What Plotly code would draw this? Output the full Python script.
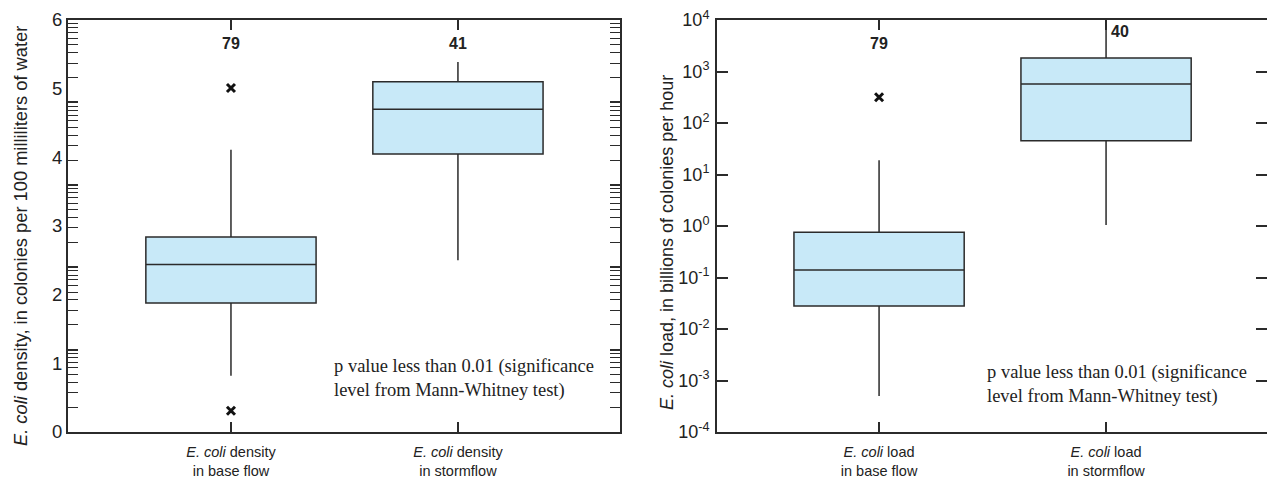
import plotly.graph_objects as go

# ---- data -------------------------------------------------------------
categories_density = ["<i>E. coli</i> density<br>in base flow",
                      "<i>E. coli</i> density<br>in stormflow"]
categories_load = ["<i>E. coli</i> load<br>in base flow",
                   "<i>E. coli</i> load<br>in stormflow"]

# log10 density, colonies per 100 mL  [base flow, stormflow]
density_lowerfence = [0.82, 2.50]
density_q1 = [1.88, 4.05]
density_median = [2.44, 4.70]
density_q3 = [2.84, 5.10]
density_upperfence = [4.11, 5.39]
density_outliers_base = [5.01, 0.31]
density_counts = [79, 41]

# load, billions of colonies per hour  [base flow, stormflow]
load_lowerfence = [0.0005, 1.05]
load_q1 = [0.028, 45]
load_median = [0.14, 570]
load_q3 = [0.76, 1820]
load_upperfence = [19, 10000]
load_outliers_base = [316]
load_counts = [79, 40]

density_ticks = [0, 1, 2, 3, 4, 5, 6]
load_tick_exponents = [-4, -3, -2, -1, 0, 1, 2, 3, 4]

# ---- styling ----------------------------------------------------------
W, H = 1267, 481
NARROW = "Liberation Sans Narrow, Arial Narrow, sans-serif"
SERIF = "Liberation Serif, Times New Roman, serif"
INK = "#2b2b2b"
FILL = "#c8e9f8"
BOX_W = 0.75


def px_x(p):
    return p / W


def px_y(p):
    return 1 - p / H


fig = go.Figure()

# boxes
for i in range(2):
    fig.add_trace(go.Box(
        x=[i], q1=[density_q1[i]], median=[density_median[i]], q3=[density_q3[i]],
        lowerfence=[density_lowerfence[i]], upperfence=[density_upperfence[i]],
        width=BOX_W, whiskerwidth=0, boxpoints=False, fillcolor=FILL,
        line=dict(color=INK, width=1.5), xaxis="x", yaxis="y",
        showlegend=False, hoverinfo="skip"))
    fig.add_trace(go.Box(
        x=[i], q1=[load_q1[i]], median=[load_median[i]], q3=[load_q3[i]],
        lowerfence=[load_lowerfence[i]], upperfence=[load_upperfence[i]],
        width=BOX_W, whiskerwidth=0, boxpoints=False, fillcolor=FILL,
        line=dict(color=INK, width=1.5), xaxis="x2", yaxis="y2",
        showlegend=False, hoverinfo="skip"))

# outliers
outlier_marker = dict(symbol="x-thin", size=8, color="#111",
                      line=dict(color="#111", width=3))
fig.add_trace(go.Scatter(x=[0] * len(density_outliers_base), y=density_outliers_base,
                         mode="markers", marker=outlier_marker, xaxis="x", yaxis="y",
                         showlegend=False, hoverinfo="skip"))
fig.add_trace(go.Scatter(x=[0] * len(load_outliers_base), y=load_outliers_base,
                         mode="markers", marker=outlier_marker, xaxis="x2", yaxis="y2",
                         showlegend=False, hoverinfo="skip"))

# empty trace to hold the log-cycle tick axis on the density panel
fig.add_trace(go.Scatter(x=[None], y=[None], xaxis="x", yaxis="y3",
                         showlegend=False, hoverinfo="skip"))

y_dom = [49 / H, 461 / H]
axis_common = dict(showline=True, linecolor=INK, linewidth=2, tickcolor=INK,
                   showgrid=False, zeroline=False, fixedrange=True, automargin=False)

decades = [10 ** n for n in range(0, 6)]
cycle_minor = [k * 10 ** n for n in range(0, 5) for k in range(2, 10)]

fig.update_layout(
    width=W, height=H, autosize=False,
    margin=dict(l=0, r=0, t=0, b=0, pad=0, autoexpand=False),
    paper_bgcolor="white", plot_bgcolor="white",
    font=dict(family=NARROW, size=18, color="#222"),
    xaxis=dict(domain=[68 / W, 620 / W], range=[-0.718, 1.714], anchor="y",
               tickmode="array", tickvals=[0, 1], ticktext=categories_density,
               ticks="inside", ticklen=10, tickwidth=1.5, mirror="ticks",
               tickfont=dict(size=14.5), ticklabelstandoff=6, **axis_common),
    yaxis=dict(domain=y_dom, range=[0, 6], anchor="x",
               tickmode="array", tickvals=density_ticks,
               ticktext=[str(v) for v in density_ticks],
               ticks="", mirror=True, tickfont=dict(size=18.5), **axis_common),
    yaxis3=dict(overlaying="y", anchor="x", side="left", type="log", range=[0, 5],
                tickmode="array", tickvals=decades, ticks="inside", ticklen=10,
                tickwidth=2, showticklabels=False, mirror="ticks",
                minor=dict(tickmode="array", tickvals=cycle_minor, ticks="inside",
                           ticklen=10, tickwidth=1, tickcolor=INK),
                **axis_common),
    xaxis2=dict(domain=[717 / W, 1.0], range=[-0.714, 1.709], anchor="y2",
                tickmode="array", tickvals=[0, 1], ticktext=categories_load,
                ticks="inside", ticklen=10, tickwidth=1.5, mirror="ticks",
                tickfont=dict(size=14.5), ticklabelstandoff=6, **axis_common),
    yaxis2=dict(domain=y_dom, type="log", range=[-4, 4], anchor="x2",
                tickmode="array", tickvals=[10.0 ** e for e in load_tick_exponents],
                ticktext=["10<sup>%d</sup>" % e for e in load_tick_exponents],
                ticks="inside", ticklen=11, tickwidth=1.5, mirror="ticks",
                tickfont=dict(size=18), ticklabelstandoff=2, **axis_common),
)

annotations = []
# sample counts
for i, n in enumerate(density_counts):
    annotations.append(dict(x=i, y=5.66, xref="x", yref="y", text="<b>%d</b>" % n,
                            showarrow=False, font=dict(size=16, family=NARROW, color="#222")))
annotations.append(dict(x=0, y=3.55, xref="x2", yref="y2", text="<b>%d</b>" % load_counts[0],
                        showarrow=False, font=dict(size=16, family=NARROW, color="#222")))
annotations.append(dict(x=1.062, y=3.786, xref="x2", yref="y2", text="<b>%d</b>" % load_counts[1],
                        showarrow=False, font=dict(size=16, family=NARROW, color="#222")))

# significance notes
note = "p value less than 0.01 (significance<br>level from Mann-Whitney test)"
annotations.append(dict(x=px_x(332), y=px_y(378), xref="paper", yref="paper", text=note,
                        xanchor="left", yanchor="middle", align="left", showarrow=False,
                        font=dict(size=18.5, family=SERIF, color="#222")))
annotations.append(dict(x=px_x(985), y=px_y(384), xref="paper", yref="paper", text=note,
                        xanchor="left", yanchor="middle", align="left", showarrow=False,
                        font=dict(size=18.5, family=SERIF, color="#222")))

# axis titles
annotations.append(dict(x=px_x(20), y=px_y(236), xref="paper", yref="paper",
                        text="<i>E. coli</i> density, in colonies per 100 milliliters of water",
                        textangle=-90, showarrow=False, xanchor="center", yanchor="middle",
                        font=dict(size=18.3, family=NARROW, color="#222")))
annotations.append(dict(x=px_x(667), y=px_y(243), xref="paper", yref="paper",
                        text="<i>E. coli</i> load, in billions of colonies per hour",
                        textangle=-90, showarrow=False, xanchor="center", yanchor="middle",
                        font=dict(size=18, family=NARROW, color="#222")))

fig.update_layout(annotations=annotations)

fig.write_html("out.html")
